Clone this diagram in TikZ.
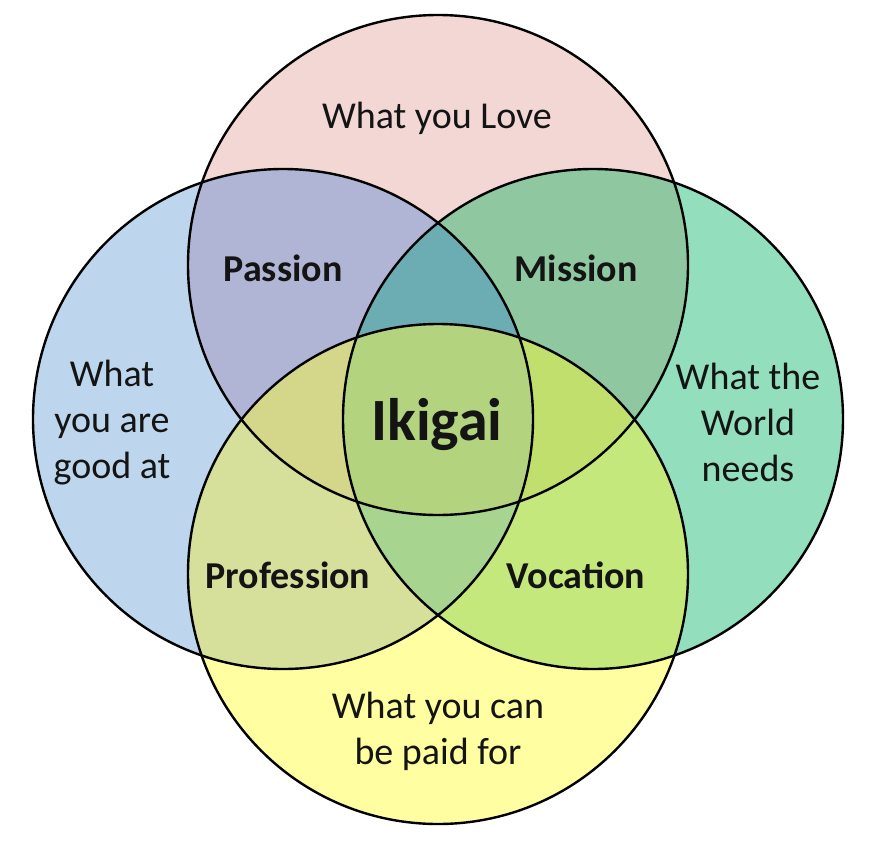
\documentclass[tikz,border=0pt]{standalone}
\usepackage{fontspec}
\setmainfont{Carlito}
\definecolor{cT}{RGB}{242,215,213}
\definecolor{cL}{RGB}{189,214,238}
\definecolor{cR}{RGB}{147,222,189}
\definecolor{cB}{RGB}{255,254,160}
\definecolor{cTL}{RGB}{177,181,213}
\definecolor{cTR}{RGB}{143,199,160}
\definecolor{cLB}{RGB}{214,224,155}
\definecolor{cRB}{RGB}{196,232,124}
\definecolor{cTLR}{RGB}{107,173,178}
\definecolor{cTLB}{RGB}{212,215,138}
\definecolor{cTRB}{RGB}{192,223,108}
\definecolor{cLRB}{RGB}{167,212,142}
\definecolor{cAll}{RGB}{179,211,126}
\tikzset{
  ring/.style={draw=black, line width=2.4pt},
  plain/.style={font=\fontsize{38}{46}\selectfont, align=center, text=black!92},
  bold/.style={font=\fontsize{38}{46}\selectfont\bfseries, align=center, text=black!92},
  big/.style={font=\fontsize{60}{62}\selectfont\bfseries, text=black!92}
}
\def\R{250pt}
\begin{document}
\begin{tikzpicture}[x=1pt,y=-1pt]
\useasboundingbox[fill=white] (0,0) rectangle (881,841);
\coordinate (T) at (438,265);
\coordinate (B) at (438,574);
\coordinate (L) at (283,419);
\coordinate (R) at (593,419);
% single circles
\fill[cT] (T) circle[radius=\R];
\fill[cL] (L) circle[radius=\R];
\fill[cR] (R) circle[radius=\R];
\fill[cB] (B) circle[radius=\R];
% pairs
\begin{scope}\clip (T) circle[radius=\R]; \fill[cTL] (L) circle[radius=\R]; \end{scope}
\begin{scope}\clip (T) circle[radius=\R]; \fill[cTR] (R) circle[radius=\R]; \end{scope}
\begin{scope}\clip (B) circle[radius=\R]; \fill[cLB] (L) circle[radius=\R]; \end{scope}
\begin{scope}\clip (B) circle[radius=\R]; \fill[cRB] (R) circle[radius=\R]; \end{scope}
% triples
\begin{scope}\clip (T) circle[radius=\R]; \clip (L) circle[radius=\R]; \fill[cTLR] (R) circle[radius=\R]; \end{scope}
\begin{scope}\clip (T) circle[radius=\R]; \clip (L) circle[radius=\R]; \fill[cTLB] (B) circle[radius=\R]; \end{scope}
\begin{scope}\clip (T) circle[radius=\R]; \clip (R) circle[radius=\R]; \fill[cTRB] (B) circle[radius=\R]; \end{scope}
\begin{scope}\clip (L) circle[radius=\R]; \clip (R) circle[radius=\R]; \fill[cLRB] (B) circle[radius=\R]; \end{scope}
% all four
\begin{scope}\clip (T) circle[radius=\R]; \clip (L) circle[radius=\R]; \clip (R) circle[radius=\R]; \fill[cAll] (B) circle[radius=\R]; \end{scope}
% outlines
\draw[ring] (T) circle[radius=\R];
\draw[ring] (L) circle[radius=\R];
\draw[ring] (R) circle[radius=\R];
\draw[ring] (B) circle[radius=\R];
% labels
\node[plain] (love) at (437,118) {What you Love};
\node[plain] (good) at (112,423) {What\\you are\\good at};
\node[plain] (world) at (748,422) {What the\\World\\needs};
\node[plain] (paid) at (438,731) {What you can\\be paid for};
\node[bold] (passion) at (283,268) {Passion};
\node[bold] (mission) at (576,268) {Mission};
\node[bold] (profession) at (288,575) {Profession};
\node[bold] (vocation) at (576,575) {Vocation};
\node[big] (ikigai) at (437,425) {Ikigai};
\end{tikzpicture}
\end{document}
